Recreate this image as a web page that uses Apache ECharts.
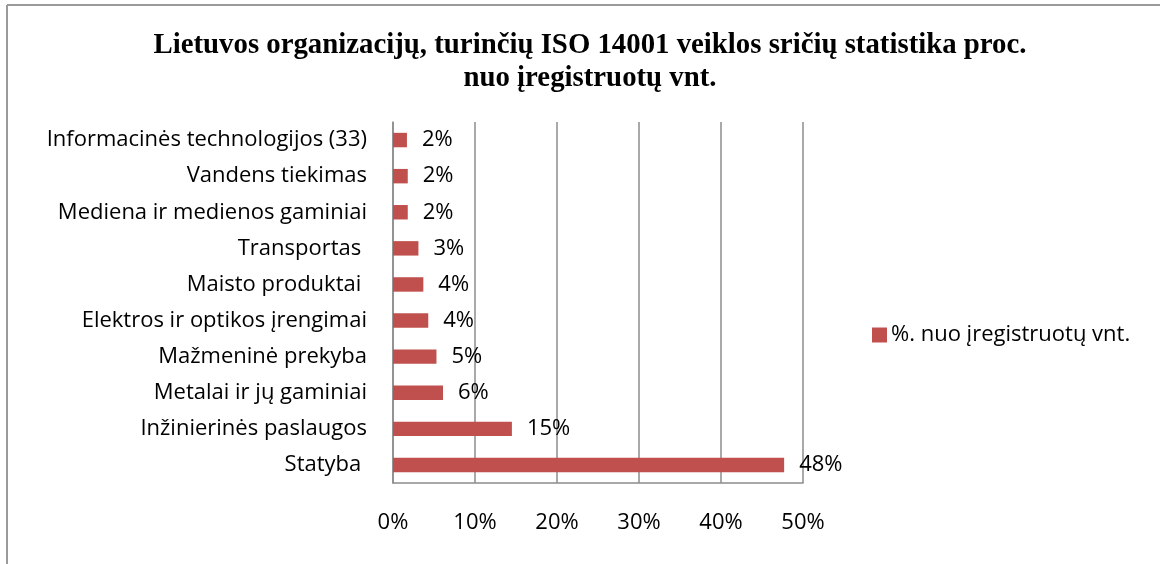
<!DOCTYPE html>
<html>
<head>
<meta charset="utf-8">
<title>ISO 14001 veiklos sritys</title>
<script src="https://cdn.jsdelivr.net/npm/echarts@6/dist/echarts.min.js"></script>
<style>
  html, body { margin: 0; padding: 0; background: #fff; }
  #chart { width: 1160px; height: 564px; }
</style>
</head>
<body>
<div id="chart"></div>
<script>
// categories from bottom to top (as on the axis)
const categories = [
  'Statyba ',
  'Inžinierinės paslaugos',
  'Metalai ir jų gaminiai',
  'Mažmeninė prekyba',
  'Elektros ir optikos įrengimai',
  'Maisto produktai ',
  'Transportas ',
  'Mediena ir medienos gaminiai',
  'Vandens tiekimas',
  'Informacinės technologijos (33)'
]
const values = [47.7, 14.5, 6.1, 5.3, 4.3, 3.7, 3.1, 1.8, 1.8, 1.7]
const xTicks = [0, 10, 20, 30, 40, 50]
const seriesName = '%. nuo įregistruotų vnt.'
const titleText = 'Lietuvos organizacijų, turinčių ISO 14001 veiklos sričių statistika proc.\nnuo įregistruotų vnt.'

const colors = {
  bar: '#c0504d',
  grid: '#8c8c8c',
  text: '#000',
  frame: '#9a9a9a'
}
const labelFont = '"Open Sans", "Noto Sans", sans-serif'

const chart = echarts.init(document.getElementById('chart'))
chart.setOption({
  backgroundColor: '#fff',
  animation: false,
  title: {
    text: titleText,
    left: 585,
    textAlign: 'center',
    top: 24,
    textStyle: {
      fontFamily: '"Liberation Serif", "Times New Roman", serif',
      fontWeight: 'bold',
      fontSize: 28.8,
      lineHeight: 33,
      color: colors.text
    }
  },
  graphic: [
    { type: 'line', shape: { x1: 7, y1: 5, x2: 1160, y2: 5 }, style: { stroke: colors.frame, lineWidth: 2 } },
    { type: 'line', shape: { x1: 7, y1: 5, x2: 7, y2: 564 }, style: { stroke: colors.frame, lineWidth: 2 } }
  ],
  legend: {
    data: [seriesName],
    left: 867,
    top: 319,
    itemWidth: 15,
    itemHeight: 15,
    itemGap: 6,
    icon: 'rect',
    textStyle: { fontFamily: labelFont, fontSize: 22, color: colors.text, padding: [0, 0, 0, -1] }
  },
  grid: { left: 393, right: 357, top: 122, bottom: 81, containLabel: false },
  xAxis: {
    type: 'value',
    min: xTicks[0],
    max: xTicks[xTicks.length - 1],
    interval: 10,
    axisLine: { show: true, lineStyle: { color: colors.grid, width: 1.5 } },
    axisTick: { show: false },
    splitLine: { show: true, lineStyle: { color: colors.grid, width: 1.5 } },
    axisLabel: {
      margin: 29,
      formatter: v => v + '%',
      fontFamily: labelFont,
      fontSize: 22,
      color: colors.text
    }
  },
  yAxis: {
    type: 'category',
    data: categories,
    axisLine: { show: true, lineStyle: { color: colors.grid, width: 1.5 } },
    axisTick: { show: false },
    axisLabel: {
      margin: 26,
      fontFamily: labelFont,
      fontSize: 22,
      color: colors.text
    }
  },
  series: [{
    name: seriesName,
    type: 'bar',
    data: values,
    barWidth: '40%',
    itemStyle: { color: colors.bar },
    label: {
      show: true,
      position: 'right',
      distance: 15,
      formatter: p => Math.round(p.value) + '%',
      fontFamily: labelFont,
      fontSize: 22,
      color: colors.text
    }
  }]
})
</script>
</body>
</html>
